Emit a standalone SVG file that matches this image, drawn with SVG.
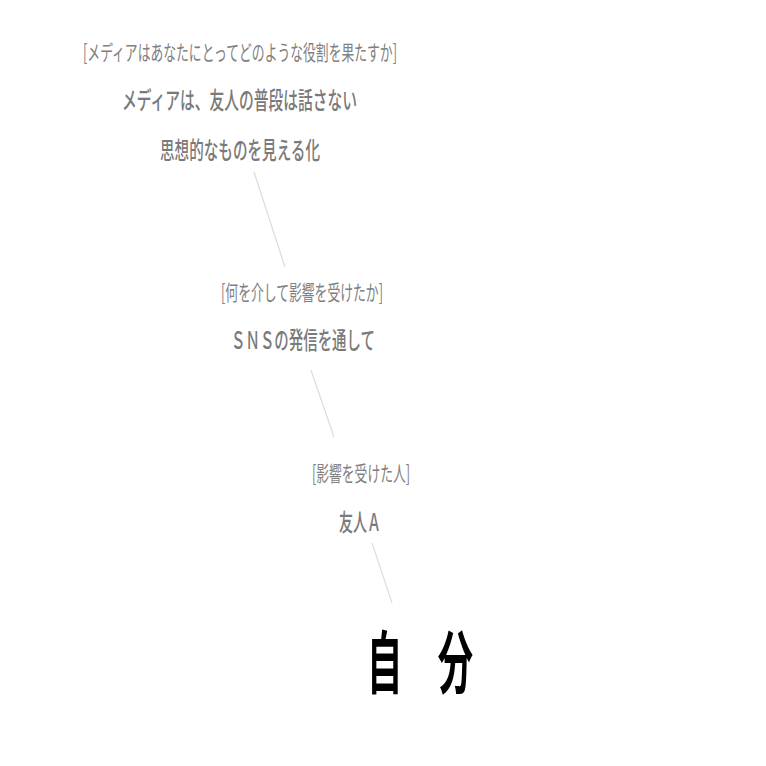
<svg xmlns="http://www.w3.org/2000/svg" width="766" height="766" viewBox="0 0 766 766">
<style>
text{font-family:"Noto Sans CJK JP","Noto Sans",sans-serif;}
.q{fill:#808080;font-size:21px;font-weight:400;}
.a{fill:#7a7a7a;font-size:24px;font-weight:500;}
.me{fill:#000;font-size:68px;font-weight:700;}
.c{stroke:#dcdcdc;stroke-width:1.2;fill:none;}
</style>
<rect width="766" height="766" fill="#fff"/>
<g id="connectors">
<line class="c" x1="254" y1="172" x2="285" y2="267"/>
<line class="c" x1="311" y1="370" x2="334" y2="437"/>
<line class="c" x1="372" y1="543" x2="392" y2="603"/>
</g>
<g id="node-media">
<text class="q" x="83" y="60" textLength="314" lengthAdjust="spacingAndGlyphs">[メディアはあなたにとってどのような役割を果たすか]</text>
<text class="a" x="122" y="109" textLength="235" lengthAdjust="spacingAndGlyphs">メディアは、友人の普段は話さない</text>
<text class="a" x="160" y="159" textLength="160" lengthAdjust="spacingAndGlyphs">思想的なものを見える化</text>
</g>
<g id="node-via">
<text class="q" x="221" y="300" textLength="162" lengthAdjust="spacingAndGlyphs">[何を介して影響を受けたか]</text>
<text class="a" x="231" y="349" textLength="144" lengthAdjust="spacingAndGlyphs">ＳＮＳの発信を通して</text>
</g>
<g id="node-person">
<text class="q" x="312" y="481" textLength="98" lengthAdjust="spacingAndGlyphs">[影響を受けた人]</text>
<text class="a" x="339" y="531" textLength="42" lengthAdjust="spacingAndGlyphs">友人Ａ</text>
</g>
<g id="node-self">
<text class="me" x="367" y="688" textLength="106" lengthAdjust="spacingAndGlyphs">自　分</text>
</g>
</svg>
